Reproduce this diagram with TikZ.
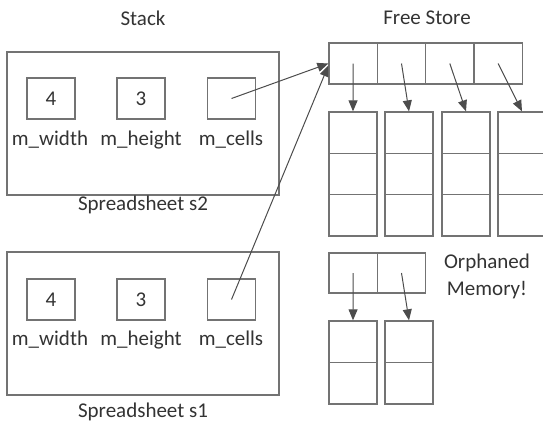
\documentclass[tikz,border=0pt]{standalone}
\usepackage{fontspec}
\setmainfont{Carlito}
\usetikzlibrary{arrows.meta}
\tikzset{
  box/.style={draw=black!55, line width=1.4pt, minimum width=48pt, minimum height=41pt, inner sep=0pt, font=\fontsize{21}{25}\selectfont, text=black!80},
  frame/.style={draw=black!55, line width=1.4pt, minimum width=272pt, minimum height=143pt, inner sep=0pt},
  lbl/.style={font=\fontsize{21}{25}\selectfont, text=black!80, inner sep=0pt},
  ptr/.style={draw=black!70, line width=1pt, -{Triangle[length=11pt,width=9pt]}},
}
\begin{document}
\begin{tikzpicture}[x=1pt,y=-1pt]
  \useasboundingbox (0,0) rectangle (543,424);
  \node[lbl] (stack) at (143,18) {Stack};
  \node[lbl] (free) at (427,18) {Free Store};

  % spreadsheet s2
  \node[frame] (s2) at (143,123.5) {};
  \node[box] (s2w) at (51,98.5) {4};
  \node[box] (s2h) at (141,98.5) {3};
  \node[box] (s2c) at (231.5,98.5) {};
  \node[lbl] (s2wl) at (50,140) {m\_width};
  \node[lbl] (s2hl) at (141,140) {m\_height};
  \node[lbl] (s2cl) at (231,140) {m\_cells};
  \node[lbl] (s2name) at (143,205) {Spreadsheet s2};

  % spreadsheet s1
  \node[frame] (s1) at (143,323.5) {};
  \node[box] (s1w) at (51,299.5) {4};
  \node[box] (s1h) at (141,299.5) {3};
  \node[box] (s1c) at (231.5,299.5) {};
  \node[lbl] (s1wl) at (50,340) {m\_width};
  \node[lbl] (s1hl) at (141,340) {m\_height};
  \node[lbl] (s1cl) at (231,340) {m\_cells};
  \node[lbl] (s1name) at (143,412) {Spreadsheet s1};

  % free store
  \foreach \i/\x in {0/353,1/409,2/466,3/522} {
    \node[box, minimum width=48.3pt] (top\i) at (353.2+48.3*\i,63.5) {};
    \foreach \j in {0,1,2}
      \node[box, minimum height=41.3pt] (c\i-\j) at (\x,132.7+41.3*\j) {};
    \draw[ptr] (top\i.center) -- (c\i-0.north);
  }

  % orphaned memory
  \foreach \i/\x in {0/353,1/409} {
    \node[box, minimum width=48.3pt, minimum height=40pt] (old\i) at (353.2+48.3*\i,273) {};
    \foreach \j in {0,1}
      \node[box, minimum height=41.5pt] (o\i-\j) at (\x,341.75+41.5*\j) {};
    \draw[ptr] (old\i.center) -- (o\i-0.north);
  }
  \node[lbl, align=center] (orph) at (487,276.5) {Orphaned\\[2pt]Memory!};

  \draw[ptr] (s2c.center) -- (top0.west);
  \draw[ptr] (s1c.center) -- ([yshift=-2pt]top0.west);
\end{tikzpicture}
\end{document}
